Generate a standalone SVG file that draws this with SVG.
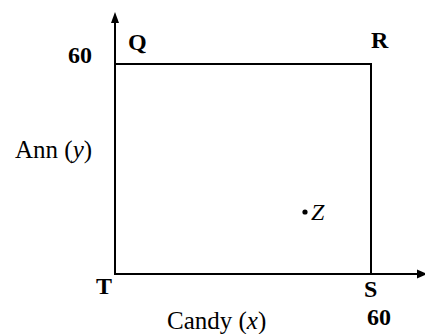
<svg xmlns="http://www.w3.org/2000/svg" width="425" height="334" viewBox="0 0 425 334">
<style>
text{font-family:"Liberation Serif","Times New Roman",serif;fill:#000}
.lbl{font-size:24px}
.big{font-size:25px}
.b{font-weight:bold}
.ln{stroke:#000;stroke-width:2;fill:none}
</style>
<rect width="425" height="334" fill="#fff"/>
<g id="connectors">
<line class="ln" x1="115" y1="275" x2="115" y2="22"/>
<polygon points="115,12 111,23 119,23" fill="#000"/>
<line class="ln" x1="114" y1="274" x2="418" y2="274"/>
<polygon points="427,274 417,269.5 417,278.5" fill="#000"/>
<polyline class="ln" points="115,64 371,64 371,274"/>
</g>
<g id="Q"><text class="lbl b" x="128" y="50">Q</text></g>
<g id="R"><text class="lbl b" x="371" y="48">R</text></g>
<g id="T"><text class="lbl b" x="96" y="294">T</text></g>
<g id="S"><text class="lbl b" x="364" y="297">S</text></g>
<g id="y60"><text class="lbl b" x="68" y="63">60</text></g>
<g id="x60"><text class="lbl b" x="367" y="325">60</text></g>
<g id="ann"><text class="big" x="15" y="158">Ann (<tspan font-style="italic">y</tspan>)</text></g>
<g id="candy"><text class="big" x="167" y="329">Candy (<tspan font-style="italic">x</tspan>)</text></g>
<g id="Z"><circle cx="305" cy="212" r="2.6" fill="#000"/><text class="lbl" font-style="italic" x="311" y="220">Z</text></g>
</svg>
